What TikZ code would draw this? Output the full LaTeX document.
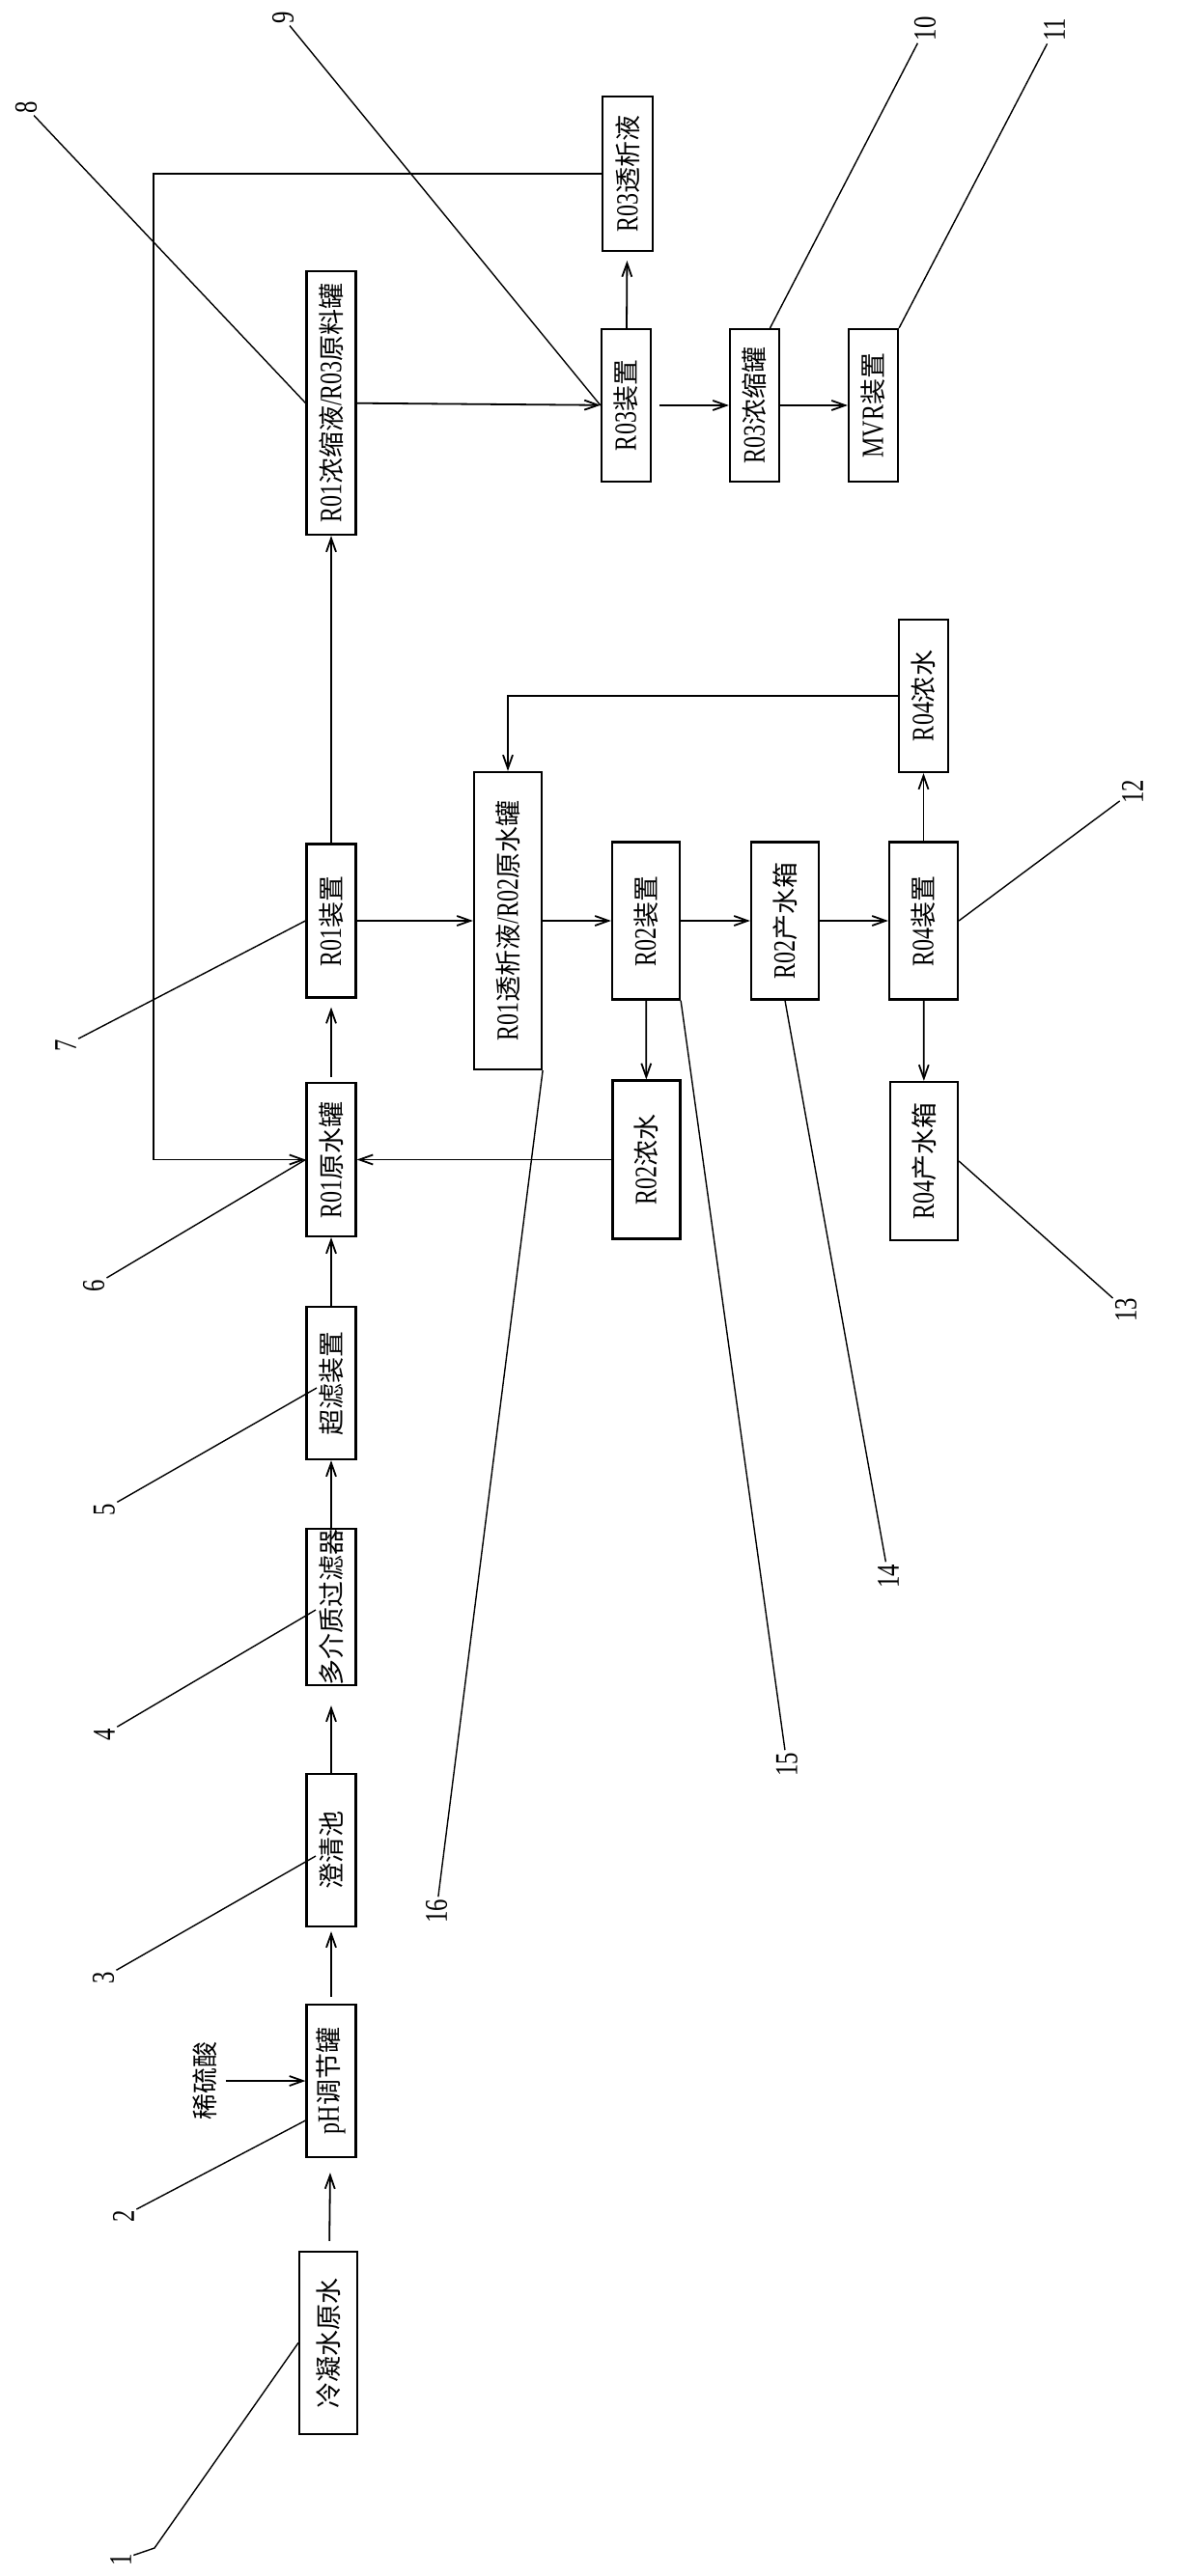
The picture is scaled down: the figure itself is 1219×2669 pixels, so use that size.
\documentclass[tikz,border=0pt]{standalone}
\usepackage{fontspec}
\setmainfont{Noto Sans CJK SC}
\newfontfamily\ltfont[FakeStretch=0.75]{Liberation Serif}
\newcommand\LT[1]{{\ltfont\fontsize{16pt}{16pt}\selectfont #1}}
\usetikzlibrary{arrows.meta,calc}
\begin{document}
\begin{tikzpicture}[x=0.5pt,y=-0.5pt,
  box/.style={draw, line width=1.1pt, rotate=90, inner sep=0pt, fill=white,
    font=\fontsize{13.5pt}{15pt}\selectfont},
  arr/.style={line width=0.9pt, -{Straight Barb[length=7pt,width=5pt,line width=0.9pt]}},
  lead/.style={line width=0.7pt},
  num/.style={rotate=90, inner sep=1pt, font=\ltfont\fontsize{16.5pt}{16.5pt}\selectfont},
  txt/.style={rotate=90, inner sep=4.5pt, font=\fontsize{13.5pt}{15pt}\selectfont}]
\useasboundingbox (0,0) rectangle (1219,2669);

% main column
\node[box, minimum width=94.5pt, minimum height=30pt] (lnys) at (340,2427.5) {冷凝水原水};
\node[box, minimum width=79pt, minimum height=25.5pt] (ph) at (343,2156) {\LT{pH}调节罐};
\node[box, minimum width=79pt, minimum height=25.5pt] (cqc) at (343,1917) {澄清池};
\node[box, minimum width=79pt, minimum height=25.5pt] (dj) at (343,1665) {多介质过滤器};
\node[box, minimum width=79pt, minimum height=25.5pt] (clz) at (343,1433) {超滤装置};
\node[box, minimum width=79.5pt, minimum height=25.5pt] (r1y) at (343,1201.5) {\LT{R01}原水罐};
\node[box, minimum width=79.5pt, minimum height=25.5pt] (r1d) at (343,954) {\LT{R01}装置};
\node[box, minimum width=136.5pt, minimum height=25.5pt] (r1n) at (343,417.5) {\LT{R01}浓缩液\LT{/R03}原料罐};

% RO3 branch
\node[box, minimum width=80pt, minimum height=26pt] (r3t) at (650,180) {\LT{R03}透析液};
\node[box, minimum width=79pt, minimum height=25.5pt] (r3d) at (648.5,420) {\LT{R03}装置};
\node[box, minimum width=79pt, minimum height=25.5pt] (r3n) at (781.5,420) {\LT{R03}浓缩罐};
\node[box, minimum width=79pt, minimum height=25.5pt] (mvr) at (904.5,420) {\LT{MVR}装置};

% RO2 / RO4 branch
\node[box, minimum width=154pt, minimum height=35pt] (r1t) at (526,954) {\LT{R01}透析液\LT{/R02}原水罐};
\node[box, minimum width=81.5pt, minimum height=35pt] (r2d) at (669,954) {\LT{R02}装置};
\node[box, minimum width=81.5pt, minimum height=35pt] (r2c) at (813,954) {\LT{R02}产水箱};
\node[box, minimum width=81.5pt, minimum height=35.5pt] (r4d) at (956.5,954) {\LT{R04}装置};
\node[box, minimum width=79pt, minimum height=25.5pt] (r4n) at (956.5,721) {\LT{R04}浓水};
\node[box, minimum width=82pt, minimum height=35pt] (r4c) at (957,1203) {\LT{R04}产水箱};
\node[box, minimum width=82pt, minimum height=35pt] (r2n) at (669.5,1201.5) {\LT{R02}浓水};

% acid
\node[txt] (xls) at (212,2156) {稀硫酸};

% connectors
\draw[arr, shorten <=5pt, shorten >=7.5pt] (lnys) -- (ph);
\draw[arr, shorten <=3.5pt, shorten >=2pt] (ph) -- (cqc);
\draw[arr, shorten >=10pt] (cqc) -- (dj);
\draw[arr] (dj) -- (clz);
\draw[arr] (clz) -- (r1y);
\draw[arr, shorten <=2.5pt, shorten >=4.5pt] (r1y) -- (r1d);
\draw[arr] (r1d) -- (r1n);
\draw[arr] (r1n) -- (r3d);
\draw[arr, shorten >=4.5pt] (r3d) -- (r3t);
\draw[arr, shorten <=4pt] (r3d) -- (r3n);
\draw[arr] (r3n) -- (mvr);
\coordinate (fb) at (159,180);
\draw[arr] (r3t) -- (fb) |- (r1y);
\draw[arr] (r1d) -- (r1t);
\draw[arr] (r1t) -- (r2d);
\draw[arr] (r2d) -- (r2c);
\draw[arr] (r2c) -- (r4d);
\draw[arr] (r4d) -- (r4n);
\draw[arr] (r4d) -- (r4c);
\draw[arr] (r2d) -- (r2n);
\draw[arr] (r2n) -- (r1y);
\draw[arr] (r4n) -| (r1t);
\draw[arr] (xls) -- (ph);

% reference numbers
\node[num] (l1) at (125,2652) {1};
\node[num] (l2) at (128,2296) {2};
\node[num] (l3) at (107,2049) {3};
\node[num] (l4) at (108,1797) {4};
\node[num] (l5) at (108,1564) {5};
\node[num] (l6) at (97,1332) {6};
\node[num] (l7) at (68,1083) {7};
\node[num] (l8) at (27,111) {8};
\node[num] (l9) at (293,18) {9};
\node[num] (l10) at (958,30) {10};
\node[num] (l11) at (1092,31) {11};
\node[num] (l12) at (1173,820) {12};
\node[num] (l13) at (1166,1357) {13};
\node[num] (l14) at (920,1633) {14};
\node[num] (l15) at (815,1828) {15};
\node[num] (l16) at (452,1980) {16};

\coordinate (k1) at (160,2640);
\draw[lead] (lnys.north) -- (k1) -- (l1);
\draw[lead] ($(ph.north)+(0,41)$) -- (l2);
\draw[lead] ($(cqc.center)+(-16,6)$) -- (l3);
\draw[lead] ($(dj.center)+(-16,3)$) -- (l4);
\draw[lead] ($(clz.center)+(-15,5)$) -- (l5);
\draw[lead] (r1y.north) -- (l6);
\draw[lead] (r1d.north) -- (l7);
\draw[lead] (r1n.north) -- (l8);
\draw[lead] (r3d.north) -- (l9);
\draw[lead] ($(r3n.east)+(16,0)$) -- (l10);
\draw[lead] (mvr.south east) -- (l11);
\draw[lead] (r4d.south) -- (l12);
\draw[lead] (r4c.south) -- (l13);
\draw[lead] (r2c.west) -- (l14);
\draw[lead] (r2d.south west) -- (l15);
\draw[lead] (r1t.south west) -- (l16);
\end{tikzpicture}
\end{document}
